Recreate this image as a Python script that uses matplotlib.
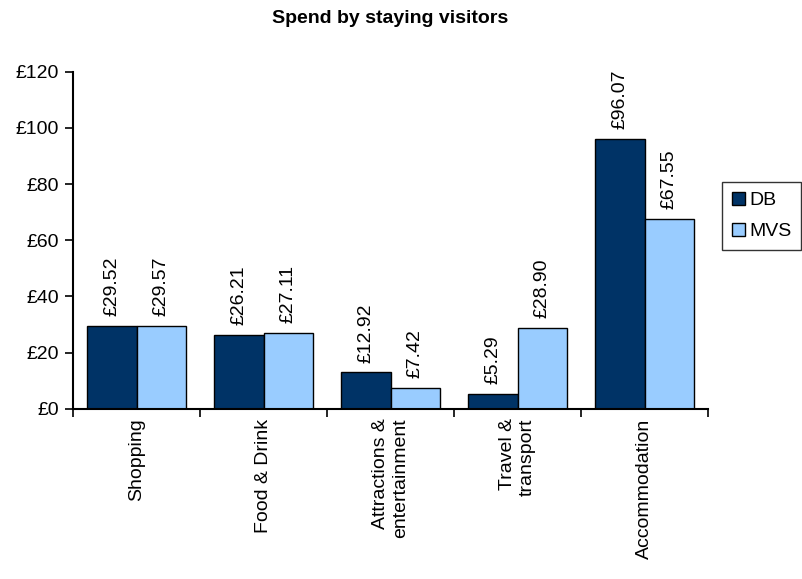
import numpy as np
import matplotlib.pyplot as plt

categories = ['Shopping', 'Food & Drink', 'Attractions &\nentertainment', 'Travel &\ntransport', 'Accommodation']
db = [29.52, 26.21, 12.92, 5.29, 96.07]
mvs = [29.57, 27.11, 7.42, 28.90, 67.55]
yticks = [0, 20, 40, 60, 80, 100, 120]

plt.rcParams['font.family'] = ['Liberation Sans', 'DejaVu Sans']

fig = plt.figure(figsize=(8.02, 5.79), dpi=100)
ax = fig.add_axes([0.091, 0.294, 0.792, 0.582])

x = np.arange(len(categories))
w = 0.39
b1 = ax.bar(x - w / 2, db, w, color='#003366', edgecolor='black', linewidth=1, label='DB')
b2 = ax.bar(x + w / 2, mvs, w, color='#99CCFF', edgecolor='black', linewidth=1, label='MVS')

for bars, vals in [(b1, db), (b2, mvs)]:
    ax.bar_label(bars, labels=['£%.2f' % v for v in vals], rotation=90, padding=7, fontsize=14)

ax.set_xlim(-0.5, len(categories) - 0.5)
ax.set_ylim(0, 120)
ax.set_yticks(yticks)
ax.set_yticklabels(['£%d' % v for v in yticks], fontsize=14)

# category boundaries get the tick marks, names sit on minor ticks
ax.set_xticks(np.arange(len(categories) + 1) - 0.5)
ax.set_xticklabels([])
ax.set_xticks(x, minor=True)
ax.set_xticklabels(categories, minor=True, rotation=90, fontsize=14, va='top', ha='center', multialignment='right')
ax.tick_params(axis='x', which='minor', length=0, pad=7)
ax.tick_params(axis='x', which='major', length=6, width=1.2, direction='out')
ax.tick_params(axis='y', length=6, width=1.2, direction='out', pad=4)

ax.spines['top'].set_visible(False)
ax.spines['right'].set_visible(False)
ax.spines['left'].set_linewidth(1.5)
ax.spines['bottom'].set_linewidth(1.5)

ax.set_title('Spend by staying visitors', fontsize=14, fontweight='bold', pad=35)

fig.legend(loc='center left', bbox_to_anchor=(0.9, 0.627), frameon=True, fancybox=False,
           edgecolor='black', fontsize=14, handlelength=0.7, handleheight=0.7,
           handletextpad=0.2, borderpad=0.5, labelspacing=0.7, borderaxespad=0)

plt.savefig('out.png', dpi=100)
